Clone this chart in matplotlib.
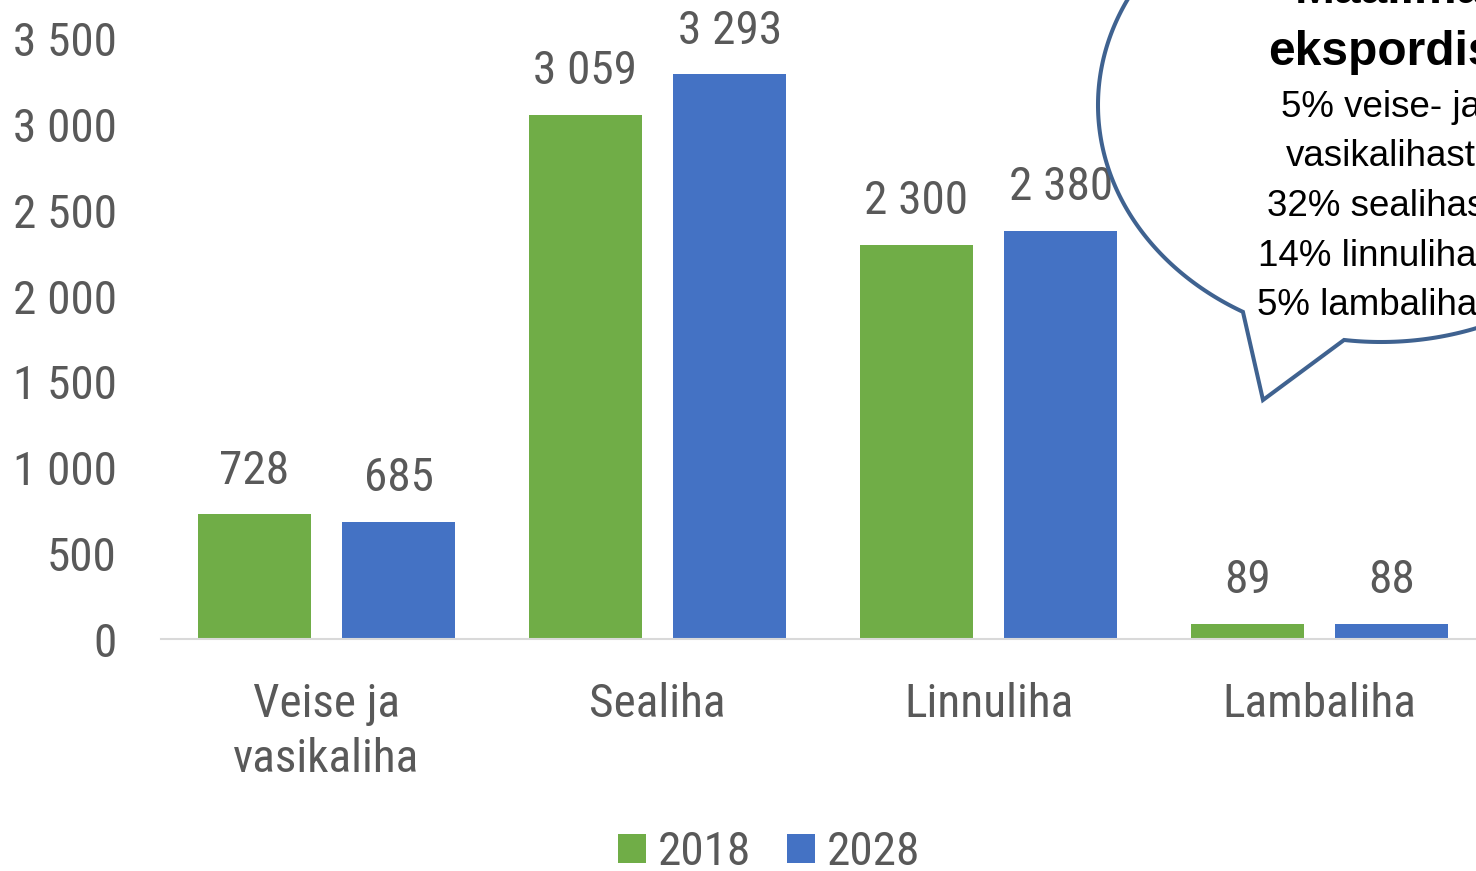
import numpy as np
import matplotlib
matplotlib.use("Agg")
import matplotlib.pyplot as plt
from matplotlib import font_manager as fm
from matplotlib.path import Path
from matplotlib.patches import PathPatch
from matplotlib.transforms import Affine2D

categories = ["Veise ja\nvasikaliha", "Sealiha", "Linnuliha", "Lambaliha"]
series_names = ["2018", "2028"]
values_2018 = [728, 3059, 2300, 89]
values_2028 = [685, 3293, 2380, 88]
yticks = [0, 500, 1000, 1500, 2000, 2500, 3000, 3500]
callout_title = ["Maailma", "ekspordist"]
callout_lines = ["5% veise- ja", "vasikalihast", "32% sealihast", "14% linnulihast", "5% lambalihast"]

GREEN = "#70AD47"
BLUE = "#4472C4"
TXT = "#595959"

# ---- pick a condensed sans font if one is installed ----
def pick_condensed():
    prefs = ["roboto condensed", "liberation sans narrow", "open sans condensed",
             "noto sans condensed", "dejavu sans condensed", "arial narrow"]
    cands = []
    for f in fm.fontManager.ttflist:
        key = (f.name + " " + f.fname).lower()
        is_cond = ("condensed" in key or "narrow" in key or
                   str(f.stretch) in ("condensed", "semi-condensed", "extra-condensed"))
        if not is_cond:
            continue
        if f.weight not in (400, "normal", "regular"):
            continue
        if f.style != "normal":
            continue
        rank_extra = 1 if ("extra" in key or "semi" in key) else 0
        rank = len(prefs)
        for i, p in enumerate(prefs):
            if p in key.replace("-", " ").replace("_", " ") or p.replace(" ", "") in key:
                rank = i
                break
        cands.append((rank, rank_extra, f.fname))
    if cands:
        cands.sort()
        return fm.FontProperties(fname=cands[0][2]), True
    return fm.FontProperties(family="Roboto"), False

NUMFP, COND = pick_condensed()
NUMSIZE = 34 if COND else 31

def nfp(size=NUMSIZE):
    p = NUMFP.copy()
    p.set_size(size)
    return p

W, H = 1476, 871
fig = plt.figure(figsize=(W / 100, H / 100), dpi=100)
fig.patch.set_facecolor("white")

left_px, right_px, zero_px = 161, 1485, 639
ax = fig.add_axes([left_px / W, (H - zero_px) / H, (right_px - left_px) / W, zero_px / H])
px_per_unit = 600 / 3500
ax.set_ylim(0, zero_px / px_per_unit)
ax.set_xlim(-0.5, len(categories) - 0.5)

x = np.arange(len(categories))
bw = 0.342
off = 0.218
b1 = ax.bar(x - off, values_2018, bw, color=GREEN, label=series_names[0], zorder=2)
b2 = ax.bar(x + off, values_2028, bw, color=BLUE, label=series_names[1], zorder=2)

def fmt(v):
    return f"{v:,}".replace(",", " ")

for bars, vals in ((b1, values_2018), (b2, values_2028)):
    for r, v in zip(bars, vals):
        ax.annotate(fmt(v), (r.get_x() + r.get_width() / 2, v), xytext=(0, 22),
                    textcoords="offset points", ha="center", va="baseline",
                    fontproperties=nfp(), color=TXT)

for s in ("top", "right", "left"):
    ax.spines[s].set_visible(False)
ax.spines["bottom"].set_color("#D9D9D9")
ax.spines["bottom"].set_linewidth(1.5)
ax.spines["bottom"].set_zorder(3)

ax.set_yticks(yticks)
ax.set_yticklabels([fmt(v) for v in yticks], fontproperties=nfp(), color=TXT)
ax.set_xticks(x)
ax.set_xticklabels(categories, fontproperties=nfp(), color=TXT, linespacing=1.32)
ax.tick_params(axis="y", length=0, pad=32)
ax.tick_params(axis="x", length=0, pad=31)

leg = fig.legend(handles=[b1, b2], labels=series_names, loc="center",
                 bbox_to_anchor=(0.521, 0.022), ncol=2, frameon=False,
                 prop=nfp(), handlelength=0.59,
                 handleheight=0.56, handletextpad=0.25, columnspacing=0.75,
                 borderpad=0, borderaxespad=0)
for t in leg.get_texts():
    t.set_color(TXT)

# callout bubble (pixel coords from top-left of the figure)
to_disp = Affine2D().scale(1, -1).translate(0, H)
cx, cy, a, b = 1381, 105, 283, 237
t = np.radians(np.linspace(119.2, 457.5, 400))
pts = np.column_stack([cx + a * np.cos(t), cy + b * np.sin(t)])
pts = np.vstack([pts, [[1263, 400], pts[0]]])
codes = [Path.MOVETO] + [Path.LINETO] * (len(pts) - 2) + [Path.CLOSEPOLY]
bubble = PathPatch(Path(pts, codes), facecolor="white", edgecolor="#3F6290",
                   linewidth=2.9, zorder=10, joinstyle="miter")
bubble.set_transform(to_disp)
fig.add_artist(bubble)

def ftext(xp, yp, s, **kw):
    fig.text(xp / W, (H - yp) / H, s, ha="center", va="baseline", zorder=11, **kw)

ftext(1389, 3, callout_title[0], fontsize=34.5, fontweight="bold", family="Liberation Sans", color="black")
ftext(1389, 65, callout_title[1], fontsize=34.5, fontweight="bold", family="Liberation Sans", color="black")
for i, line in enumerate(callout_lines):
    ftext(1381, 117 + 49.5 * i, line, fontsize=26.5, family="Liberation Sans", color="black")

fig.savefig("out.png", dpi=100, facecolor="white")
